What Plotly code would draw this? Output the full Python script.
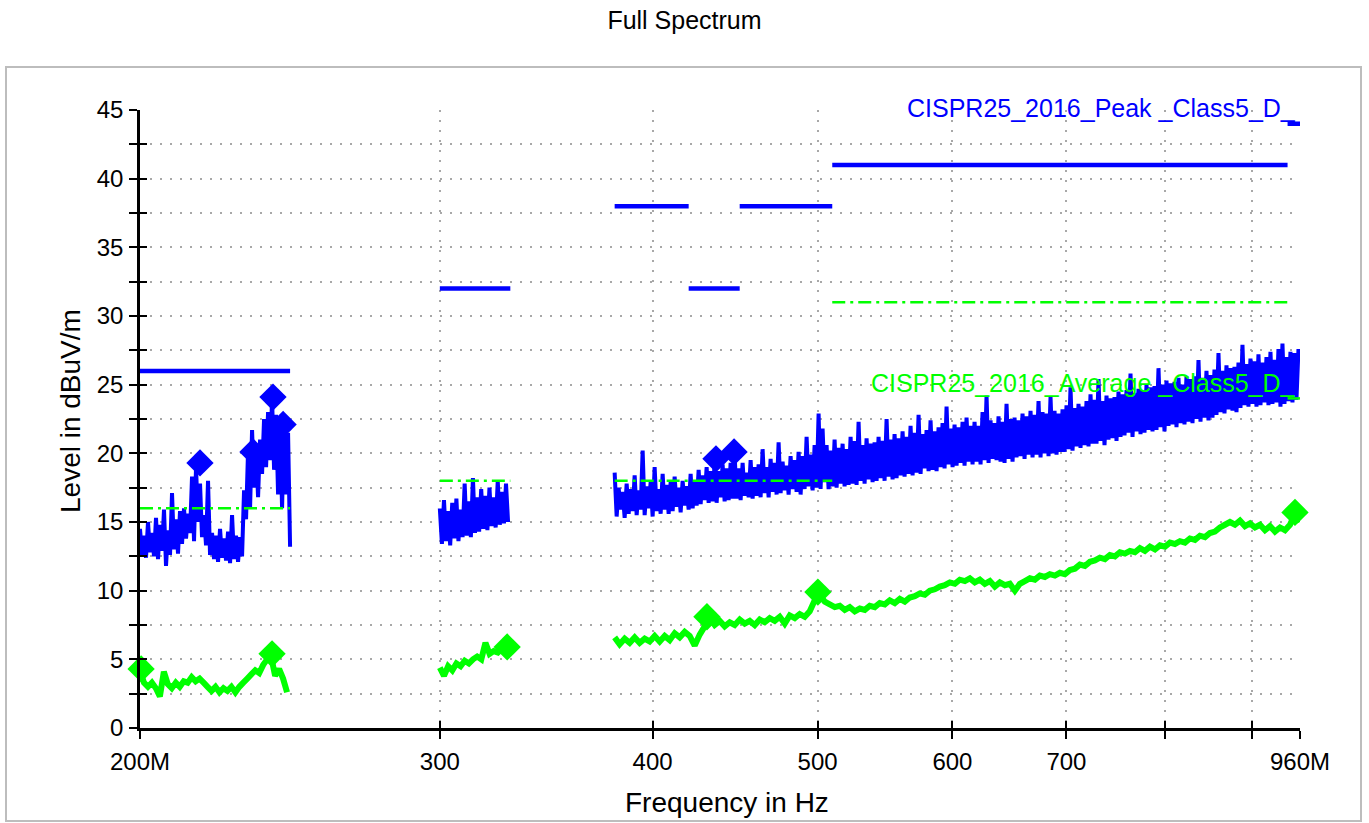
import numpy as np
import plotly.graph_objects as go

# ---------------- measured data ----------------
# Peak detector sweep, three scanned sub-ranges (start MHz, stop MHz, levels dBuV/m)
peak_seg1_range = (200, 245)
peak_seg1 = [
    14.5, 12.6, 14.0, 12.4, 15.0, 12.8, 14.2, 12.5,
    15.3, 12.3, 14.8, 12.9, 15.9, 11.8, 14.4, 12.6,
    17.1, 13.0, 15.2, 12.7, 15.8, 13.4, 16.0, 13.8,
    15.6, 14.2, 18.3, 13.6, 19.0, 15.0, 17.8, 13.9,
    15.5, 13.3, 18.0, 12.6, 14.2, 12.3, 14.0, 12.1,
    14.5, 12.4, 13.8, 12.2, 14.3, 12.0, 15.5, 12.3,
    14.0, 12.1, 13.9, 12.5, 17.3, 15.2, 20.2, 16.0,
    21.7, 17.5, 20.5, 16.8, 21.0, 18.5, 22.5, 19.0,
    23.0, 19.5, 24.0, 18.8, 22.8, 17.0, 22.0, 16.0,
    22.2, 17.0, 21.5, 13.2,
]
peak_seg2_range = (300, 329)
peak_seg2 = [
    16.0, 13.4, 16.6, 13.6, 15.8, 13.3, 16.4, 13.8, 16.7, 13.6,
    15.9, 13.9, 17.8, 14.0, 16.5, 13.9, 18.2, 14.2, 16.8, 14.3,
    17.4, 14.5, 16.9, 14.4, 17.5, 14.7, 16.8, 14.6, 18.0, 14.8,
    17.2, 14.9, 17.8, 15.0,
]
peak_seg3_range = (380, 958)
peak_seg3 = [
    18.6, 15.4, 17.5, 15.9, 17.2, 15.3, 17.8, 15.6, 17.4, 15.8,
    18.4, 15.5, 17.3, 15.9, 20.2, 15.5, 17.6, 16.0, 17.9, 15.4,
    19.0, 15.8, 17.4, 15.6, 18.5, 15.9, 17.7, 15.6, 17.9, 15.8,
    18.3, 16.1, 17.5, 15.7, 18.0, 16.2, 17.6, 15.9, 18.5, 16.0,
    17.9, 16.2, 18.8, 16.3, 18.4, 16.6, 19.0, 16.4, 18.7, 16.5,
    19.4, 16.4, 18.7, 16.8, 19.2, 16.5, 18.9, 16.6, 19.3, 16.7,
    19.9, 16.7, 18.9, 16.6, 19.3, 16.9, 18.6, 16.8, 19.5, 16.7,
    19.0, 16.9, 19.2, 16.8, 20.3, 17.1, 19.0, 16.8, 19.6, 17.2,
    19.3, 17.0, 20.8, 17.1, 19.4, 17.3, 19.1, 17.0, 19.8, 17.4,
    19.5, 17.2, 20.1, 17.0, 19.8, 17.4, 21.2, 17.6, 19.9, 17.3,
    20.6, 17.5, 22.9, 17.4, 21.8, 17.9, 20.6, 17.4, 20.2, 17.6,
    21.0, 17.5, 20.4, 17.8, 20.7, 17.6, 20.3, 17.7, 21.2, 17.8,
    20.9, 17.7, 22.3, 18.0, 20.6, 17.8, 21.1, 18.1, 20.7, 17.9,
    20.8, 18.0, 21.2, 18.2, 20.9, 18.0, 22.5, 18.3, 21.0, 18.1,
    21.4, 18.2, 21.1, 18.4, 21.6, 18.3, 21.2, 18.5, 22.0, 18.4,
    21.5, 18.6, 22.8, 18.5, 21.4, 18.9, 21.7, 18.7, 22.4, 18.8,
    21.6, 18.7, 21.9, 19.0, 22.2, 18.9, 23.4, 19.2, 21.8, 19.0,
    22.1, 19.1, 21.9, 19.3, 22.3, 19.1, 22.6, 19.4, 22.0, 19.2,
    22.3, 19.4, 22.0, 19.2, 23.0, 19.5, 24.2, 19.3, 22.4, 19.6,
    22.2, 19.5, 22.7, 19.4, 22.3, 19.3, 23.6, 19.6, 22.5, 19.4,
    22.6, 19.7, 22.4, 19.8, 22.9, 19.6, 22.7, 19.9, 23.1, 19.7,
    22.8, 19.9, 23.8, 19.7, 23.0, 20.0, 22.9, 19.8, 24.1, 20.0,
    23.1, 19.9, 22.9, 20.1, 23.2, 20.1, 23.5, 20.3, 24.8, 20.2,
    23.3, 20.5, 23.6, 20.4, 23.4, 20.6, 23.8, 20.5, 24.3, 20.7,
    23.9, 20.7, 25.4, 20.9, 23.8, 20.6, 24.2, 21.0, 24.0, 21.1,
    24.1, 20.9, 24.5, 21.2, 24.3, 21.3, 24.6, 21.5, 25.8, 21.2,
    24.4, 21.6, 24.7, 21.4, 24.6, 21.5, 25.0, 21.7, 24.8, 21.6,
    24.9, 21.7, 26.2, 21.9, 25.0, 21.6, 25.3, 22.0, 25.1, 22.1,
    25.2, 21.9, 25.5, 22.2, 25.0, 22.1, 25.6, 22.3, 25.4, 22.2,
    25.6, 22.5, 26.8, 22.3, 25.5, 22.6, 26.0, 22.4, 25.7, 22.6,
    26.1, 22.8, 27.3, 23.0, 26.0, 22.9, 26.4, 23.2, 26.2, 23.1,
    26.3, 23.0, 26.6, 23.3, 27.9, 23.5, 26.5, 23.4, 26.9, 23.6,
    26.7, 23.4, 27.2, 23.5, 26.6, 23.7, 27.0, 23.5, 27.4, 23.6,
    26.8, 23.7, 27.6, 23.4, 28.0, 23.6, 27.0, 23.8, 27.4, 23.7,
    27.3, 23.9, 27.6,
]

# Average detector sweep
avg_seg1_range = (200, 244)
avg_seg1 = [
    4.2, 3.3, 3.0, 3.3, 2.9, 2.3, 4.1, 3.2, 2.9, 3.3,
    3.0, 3.4, 3.3, 3.7, 3.4, 3.6, 3.3, 3.0, 2.7, 3.0,
    2.6, 2.9, 2.7, 3.0, 2.6, 3.0, 3.3, 3.6, 3.9, 4.2,
    4.0, 4.6, 5.0, 5.2, 3.8, 4.3, 3.6, 2.6,
]
avg_seg2_range = (300, 330)
avg_seg2 = [
    4.4, 3.8, 4.5, 4.2, 4.7, 4.5, 4.9, 4.7, 5.0, 5.2,
    5.0, 6.2, 5.4, 5.6, 5.5, 5.8, 5.7, 5.9,
]
avg_seg3_range = (380, 960)
avg_seg3 = [
    6.6, 6.1, 6.5, 6.2, 6.6, 6.2, 6.5, 6.3, 6.7, 6.3,
    6.7, 6.4, 6.9, 6.6, 7.0, 6.7, 6.0, 6.8, 7.4, 8.0,
    7.5, 7.8, 7.4, 7.7, 7.5, 7.9, 7.6, 7.8, 7.5, 7.9,
    7.7, 8.0, 7.8, 8.1, 7.6, 8.2, 8.0, 8.3, 8.1, 8.5,
    9.3, 9.7, 9.2, 9.0, 8.8, 8.9, 8.6, 8.8, 8.5, 8.7,
    8.6, 8.9, 8.8, 9.1, 9.0, 9.3, 9.1, 9.4, 9.2, 9.5,
    9.6, 9.8, 9.7, 10.0, 10.1, 10.3, 10.4, 10.6, 10.5, 10.8,
    10.7, 10.9, 10.6, 10.8, 10.5, 10.7, 10.3, 10.6, 10.4, 10.5,
    10.0, 10.5, 10.7, 10.9, 10.8, 11.1, 11.0, 11.2, 11.1, 11.3,
    11.2, 11.5, 11.6, 11.9, 11.8, 12.1, 12.2, 12.4, 12.3, 12.6,
    12.5, 12.8, 12.7, 12.9, 12.8, 13.1, 12.9, 13.2, 13.0, 13.3,
    13.2, 13.5, 13.4, 13.6, 13.5, 13.8, 13.7, 14.0, 13.9, 14.2,
    14.3, 14.6, 14.8, 15.0, 14.8, 15.1, 14.7, 14.9, 14.6, 14.8,
    14.4, 14.7, 14.3, 14.6, 14.4, 14.8, 15.6, 15.0,
]

# Final measurement markers (MHz, dBuV/m)
peak_mark_f = [216.9, 233.0, 239.4, 242.7, 435.8, 446.6]
peak_mark_v = [19.3, 20.1, 24.1, 22.1, 19.6, 20.1]
avg_mark_f = [200.3, 239.1, 328.6, 430.5, 500.2, 953.5]
avg_mark_v = [4.3, 5.4, 5.9, 8.1, 9.9, 15.7]

# CISPR 25 (2016) Class 5 limits: (start MHz, stop MHz, level)
peak_limit = [(200, 245, 26), (300, 330, 32), (380, 420, 38), (420, 450, 32),
              (450, 510, 38), (510, 944, 41), (944, 960, 44)]
avg_limit = [(200, 245, 16), (300, 330, 18), (380, 510, 18),
             (510, 944, 31), (944, 960, 24)]

x_ticks_mhz = [200, 300, 400, 500, 600, 700, 800, 900, 960]
x_tick_text = ["200M", "300", "400", "500", "600", "700", "", "", "960M"]

# ---------------- helpers ----------------
BLUE = "#0000FF"
GREEN = "#00FF00"
MHZ = 1e6


def sweep(rng, levels):
    """Frequency grid (log-stepped) for one scanned sub-range."""
    f = np.geomspace(rng[0], rng[1], len(levels)) * MHZ
    return list(f), list(levels)


def joined(segments):
    xs, ys = [], []
    for rng, lv in segments:
        f, v = sweep(rng, lv)
        xs += f + [None]
        ys += v + [None]
    return xs, ys


def limit_xy(bands):
    xs, ys = [], []
    for f0, f1, lv in bands:
        xs += [f0 * MHZ, f1 * MHZ, None]
        ys += [lv, lv, None]
    return xs, ys


fig = go.Figure()

px_, py_ = joined([(peak_seg1_range, peak_seg1), (peak_seg2_range, peak_seg2),
                   (peak_seg3_range, peak_seg3)])
fig.add_trace(go.Scatter(x=px_, y=py_, mode="lines",
                         line=dict(color=BLUE, width=4, simplify=False),
                         name="Peak"))

ax_, ay_ = joined([(avg_seg1_range, avg_seg1), (avg_seg2_range, avg_seg2),
                   (avg_seg3_range, avg_seg3)])
fig.add_trace(go.Scatter(x=ax_, y=ay_, mode="lines",
                         line=dict(color=GREEN, width=6, simplify=False),
                         name="Average"))

lx, ly = limit_xy(peak_limit)
fig.add_trace(go.Scatter(x=lx, y=ly, mode="lines",
                         line=dict(color=BLUE, width=4.5), name="Peak limit"))
lx, ly = limit_xy(avg_limit)
fig.add_trace(go.Scatter(x=lx, y=ly, mode="lines",
                         line=dict(color=GREEN, width=2.5, dash="13px,5px,3px,5px"),
                         name="Average limit"))

fig.add_trace(go.Scatter(x=[f * MHZ for f in peak_mark_f], y=peak_mark_v, mode="markers",
                         marker=dict(symbol="diamond", size=21, color=BLUE),
                         cliponaxis=False, name="Peak final"))
fig.add_trace(go.Scatter(x=[f * MHZ for f in avg_mark_f], y=avg_mark_v, mode="markers",
                         marker=dict(symbol="diamond", size=21, color=GREEN),
                         cliponaxis=False, name="Average final"))

# empty trace carrying the overlay axes used for the inner half of the ticks
fig.add_trace(go.Scatter(x=[], y=[], xaxis="x2", yaxis="y2", showlegend=False,
                         hoverinfo="skip"))

FONT = "Liberation Sans, Arial, sans-serif"
GRID = "#a8a8a8"
xr = [np.log10(200 * MHZ), np.log10(960 * MHZ)]
xtv = [f * MHZ for f in x_ticks_mhz]

fig.update_layout(
    width=1369, height=823,
    margin=dict(l=140, r=69, t=110, b=95),
    paper_bgcolor="white", plot_bgcolor="white",
    showlegend=False,
    font=dict(family=FONT, color="black"),
    title=dict(text="Full Spectrum", x=0.5, xanchor="center",
               y=1 - 20 / 823, yanchor="middle",
               font=dict(size=25, family=FONT, color="black")),
    xaxis=dict(type="log", range=xr, tickvals=xtv, ticktext=x_tick_text,
               ticks="outside", ticklen=8, tickwidth=2, tickcolor="black",
               showline=True, linecolor="black", linewidth=2.5,
               showgrid=True, gridcolor=GRID, gridwidth=1.5, griddash="2px,8px",
               tickfont=dict(size=24), ticklabelstandoff=2, zeroline=False),
    yaxis=dict(range=[0, 45], dtick=5, tick0=0,
               ticks="outside", ticklen=8, tickwidth=2, tickcolor="black",
               showline=True, linecolor="black", linewidth=2.5,
               showgrid=True, gridcolor=GRID, gridwidth=1.5, griddash="2px,8px",
               minor=dict(dtick=2.5, ticks="outside", ticklen=8, tickwidth=2,
                          tickcolor="black", showgrid=True, gridcolor=GRID,
                          gridwidth=1.5, griddash="2px,8px"),
               tickfont=dict(size=24), ticklabelstandoff=1, zeroline=False),
    xaxis2=dict(type="log", range=xr, tickvals=xtv, overlaying="x", anchor="y2",
                ticks="inside", ticklen=7, tickwidth=2, tickcolor="black",
                showticklabels=False, showgrid=False, showline=False, zeroline=False),
    yaxis2=dict(range=[0, 45], dtick=5, tick0=0, overlaying="y", anchor="x2",
                ticks="inside", ticklen=7, tickwidth=2, tickcolor="black",
                minor=dict(dtick=2.5, ticks="inside", ticklen=7, tickwidth=2,
                           tickcolor="black", showgrid=False),
                showticklabels=False, showgrid=False, showline=False, zeroline=False),
    shapes=[dict(type="rect", xref="paper", yref="paper",
                 x0=(6 - 140) / 1160, x1=(1361 - 140) / 1160,
                 y0=(728 - 821) / 618, y1=(728 - 67) / 618,
                 line=dict(color="#bdbdbd", width=2), fillcolor="rgba(0,0,0,0)",
                 layer="below")],
    annotations=[
        dict(text="CISPR25_2016_Peak _Class5_D_", xref="paper", yref="paper",
             x=(1298 - 140) / 1160, y=(728 - 108) / 618, xanchor="right",
             yanchor="middle", showarrow=False, font=dict(size=25, color=BLUE)),
        dict(text="CISPR25_2016_Average _Class5_D_", xref="paper", yref="paper",
             x=(1298 - 140) / 1160, y=(728 - 383) / 618, xanchor="right",
             yanchor="middle", showarrow=False, font=dict(size=25, color=GREEN)),
        dict(text="Frequency in Hz", xref="paper", yref="paper",
             x=(727 - 140) / 1160, y=(728 - 802) / 618, xanchor="center",
             yanchor="middle", showarrow=False, font=dict(size=28)),
        dict(text="Level in dBuV/m", xref="paper", yref="paper",
             x=(70 - 140) / 1160, y=(728 - 411) / 618, xanchor="center",
             yanchor="middle", textangle=-90, showarrow=False, font=dict(size=28)),
    ],
)

fig.write_html("out.html")
